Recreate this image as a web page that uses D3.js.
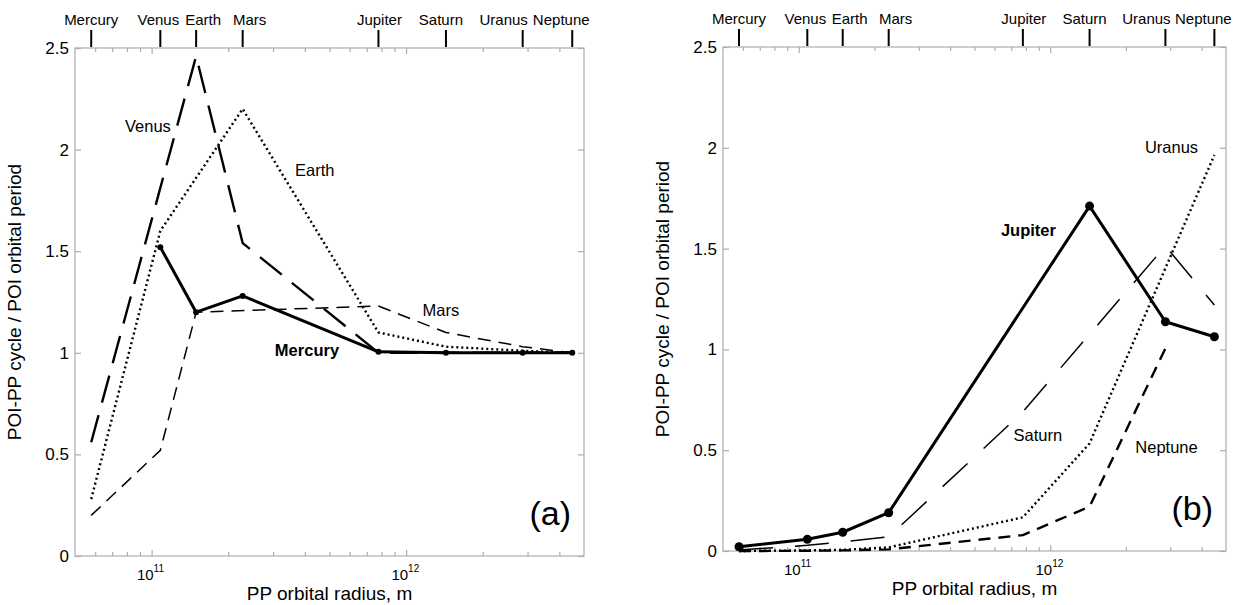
<!DOCTYPE html>
<html>
<head>
<meta charset="utf-8">
<script src="https://cdn.jsdelivr.net/npm/d3@7"></script>
<style>
  body { margin: 0; background: #fff; }
  text { font-family: "Liberation Sans", Arial, sans-serif; fill: #000; }
</style>
</head>
<body>
<div id="chart"></div>
<script>
// planets (x positions = orbital radius of the perturbing planet, m)
const planets = ["Mercury", "Venus", "Earth", "Mars", "Jupiter", "Saturn", "Uranus", "Neptune"];
const orbitRadius = [5.79e10, 1.082e11, 1.496e11, 2.279e11, 7.785e11, 1.434e12, 2.871e12, 4.495e12];

const yTicks = [0, 0.5, 1, 1.5, 2, 2.5];
const xMajor = [1e11, 1e12];
const xMinor = [6e10, 7e10, 8e10, 9e10, 2e11, 3e11, 4e11, 5e11, 6e11, 7e11, 8e11, 9e11, 2e12, 3e12, 4e12];

// POI-PP cycle / POI orbital period, one value per perturbing planet (null = the POI itself)
const mercuryCurve = [null, 1.52, 1.20, 1.28, 1.005, 1.0, 1.0, 1.0];
const venusCurve   = [0.56, null, 2.46, 1.54, 1.0, 1.0, 1.0, 1.0];
const earthCurve   = [0.28, 1.60, null, 2.20, 1.10, 1.03, 1.01, 1.0];
const marsCurve    = [0.20, 0.52, 1.20, null, 1.23, 1.10, 1.03, 1.0];

const jupiterCurve = [0.021, 0.058, 0.093, 0.19, null, 1.711, 1.137, 1.063];
const saturnCurve  = [0.005, 0.028, 0.045, 0.07, 0.69, null, 1.513, 1.22];
const uranusCurve  = [0.0, 0.003, 0.006, 0.018, 0.167, 0.534, null, 1.964];
const neptuneCurve = [0.0, 0.001, 0.003, 0.008, 0.079, 0.22, 1.005, null];

const W = 1246, H = 605;

const svg = d3.select("#chart").append("svg")
    .attr("width", W)
    .attr("height", H);

svg.append("rect").attr("width", W).attr("height", H).attr("fill", "#fff");

// small horizontal nudges so neighbouring planet names don't collide
const nameNudge = { Venus: -2, Earth: 7, Mars: 7, Jupiter: 1, Saturn: -5, Uranus: -19, Neptune: -11 };

function makePanel(cfg) {
    const x = d3.scaleLog().domain([5e10, 5e12]).range([cfg.left, cfg.right]);
    const y = d3.scaleLinear().domain([0, 2.5]).range([cfg.bottom, cfg.top]);
    const g = svg.append("g");
    const frameColor = "#adadad";

    // frame
    g.append("rect")
        .attr("x", cfg.left).attr("y", cfg.top)
        .attr("width", cfg.right - cfg.left)
        .attr("height", cfg.bottom - cfg.top)
        .attr("fill", "none")
        .attr("stroke", frameColor)
        .attr("stroke-width", 1.2);

    // inward ticks on all sides
    const tickStyle = sel => {
        sel.select(".domain").remove();
        sel.selectAll("line").attr("stroke", frameColor).attr("stroke-width", 1.2);
    };
    g.append("g").attr("transform", `translate(0,${cfg.bottom})`)
        .call(d3.axisBottom(x).tickValues(xMinor).tickSize(-4).tickSizeOuter(0).tickFormat(""))
        .call(tickStyle);
    g.append("g").attr("transform", `translate(0,${cfg.bottom})`)
        .call(d3.axisBottom(x).tickValues(xMajor).tickSize(-6).tickSizeOuter(0).tickFormat(""))
        .call(tickStyle);
    g.append("g").attr("transform", `translate(0,${cfg.top})`)
        .call(d3.axisTop(x).tickValues(xMinor).tickSize(-4).tickSizeOuter(0).tickFormat(""))
        .call(tickStyle);
    g.append("g").attr("transform", `translate(0,${cfg.top})`)
        .call(d3.axisTop(x).tickValues(xMajor).tickSize(-6).tickSizeOuter(0).tickFormat(""))
        .call(tickStyle);

    const yAxis = g.append("g").attr("transform", `translate(${cfg.left},0)`)
        .call(d3.axisLeft(y).tickValues(yTicks).tickSize(-6).tickSizeOuter(0).tickPadding(6).tickFormat(d3.format("")))
        .call(tickStyle);
    yAxis.selectAll("text")
        .style("font-family", '"Liberation Sans", Arial, sans-serif')
        .style("font-size", "17px")
        .attr("fill", "#000");
    g.append("g").attr("transform", `translate(${cfg.right},0)`)
        .call(d3.axisRight(y).tickValues(yTicks).tickSize(-6).tickSizeOuter(0).tickFormat(""))
        .call(tickStyle);

    // x tick labels as powers of ten (base and exponent as separate texts)
    xMajor.forEach(v => {
        g.append("text")
            .attr("x", x(v) + 2)
            .attr("y", cfg.bottom + 24)
            .attr("text-anchor", "end")
            .style("font-size", "15px")
            .text("10");
        g.append("text")
            .attr("x", x(v) + 2)
            .attr("y", cfg.bottom + 16)
            .attr("text-anchor", "start")
            .style("font-size", "10px")
            .text(Math.round(Math.log10(v)));
    });

    // axis titles
    g.append("text")
        .attr("x", (cfg.left + cfg.right) / 2)
        .attr("y", cfg.bottom + 44)
        .attr("text-anchor", "middle")
        .style("font-size", "19px")
        .text("PP orbital radius, m");
    g.append("text")
        .attr("transform", `translate(${cfg.left - 54},${(cfg.top + cfg.bottom) / 2}) rotate(-90)`)
        .attr("text-anchor", "middle")
        .style("font-size", "19px")
        .text("POI-PP cycle / POI orbital period");

    // planet markers above the frame
    planets.forEach((p, i) => {
        g.append("line")
            .attr("x1", x(orbitRadius[i])).attr("x2", x(orbitRadius[i]))
            .attr("y1", cfg.top - 18).attr("y2", cfg.top - 1)
            .attr("stroke", "#000")
            .attr("stroke-width", 2);
        g.append("text")
            .attr("x", x(orbitRadius[i]) + (nameNudge[p] || 0))
            .attr("y", cfg.top - 23)
            .attr("text-anchor", "middle")
            .style("font-size", "15px")
            .text(p);
    });

    // curves
    const line = d3.line()
        .x(d => x(d.r))
        .y(d => y(d.v));

    cfg.series.forEach(s => {
        const pts = s.values
            .map((v, i) => ({ r: orbitRadius[i], v: v }))
            .filter(d => d.v != null);
        g.append("path")
            .datum(pts)
            .attr("fill", "none")
            .attr("stroke", "#000")
            .attr("stroke-width", s.width)
            .attr("stroke-dasharray", s.dash)
            .attr("stroke-linejoin", "round")
            .attr("d", line);
        if (s.dots) {
            g.selectAll(null)
                .data(pts)
                .enter()
                .append("circle")
                .attr("cx", d => x(d.r))
                .attr("cy", d => y(d.v))
                .attr("r", s.dots)
                .attr("fill", "#000");
        }
    });

    // curve labels
    cfg.labels.forEach(l => {
        g.append("text")
            .attr("x", x(l.r))
            .attr("y", y(l.v))
            .style("font-size", "16.5px")
            .style("font-weight", l.bold ? "bold" : "normal")
            .text(l.text);
    });

    g.append("text")
        .attr("x", cfg.right - 13)
        .attr("y", cfg.bottom - 31)
        .attr("text-anchor", "end")
        .style("font-size", "34px")
        .text(cfg.tag);
}

makePanel({
    left: 75, right: 584, top: 48, bottom: 556,
    tag: "(a)",
    series: [
        { values: marsCurve, dash: "13,8", width: 1.5 },
        { values: earthCurve, dash: "2,3", width: 2.4 },
        { values: venusCurve, dash: "28,13", width: 2.4 },
        { values: mercuryCurve, dash: null, width: 3, dots: 3 }
    ],
    labels: [
        { text: "Venus", r: 7.86e10, v: 2.087 },
        { text: "Earth", r: 3.66e11, v: 1.87 },
        { text: "Mars", r: 1.16e12, v: 1.181 },
        { text: "Mercury", r: 3.05e11, v: 0.984, bold: true }
    ]
});

makePanel({
    left: 723, right: 1226, top: 47, bottom: 551,
    tag: "(b)",
    series: [
        { values: neptuneCurve, dash: "12,8", width: 2.4 },
        { values: uranusCurve, dash: "2,3", width: 2.4 },
        { values: saturnCurve, dash: "34,22", width: 1.5 },
        { values: jupiterCurve, dash: null, width: 3, dots: 4.5 }
    ],
    labels: [
        { text: "Uranus", r: 2.38e12, v: 1.974 },
        { text: "Jupiter", r: 6.37e11, v: 1.5625, bold: true },
        { text: "Saturn", r: 7.15e11, v: 0.546 },
        { text: "Neptune", r: 2.18e12, v: 0.486 }
    ]
});
</script>
</body>
</html>
